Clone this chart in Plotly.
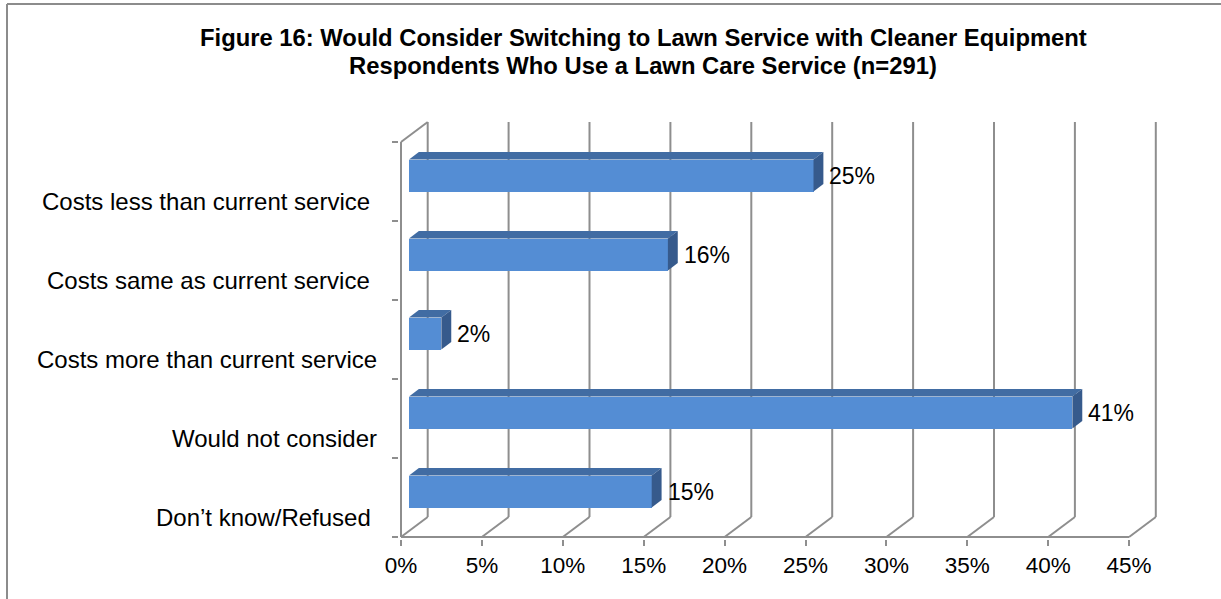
import plotly.graph_objects as go

# ---- chart data ----
categories = [
    "Costs less than current service",
    "Costs same as current service",
    "Costs more than current service",
    "Would not consider",
    "Don\u2019t know/Refused",
]
percent = [25, 16, 2, 41, 15]
tick_values = [0, 5, 10, 15, 20, 25, 30, 35, 40, 45]
tick_labels = [f"{t}%" for t in tick_values]
title_lines = [
    "Figure 16: Would Consider Switching to Lawn Service with Cleaner Equipment",
    "Respondents Who Use a Lawn Care Service (n=291)",
]

# ---- page / plot geometry ----
W, H = 1221, 599
PX_PER_PCT = 16.18          # horizontal pixels per percentage point
PX_PER_CAT = 79.0           # vertical pixels per category band
ZERO_X_PX, ZERO_Y_PX = 401, 537
L_PX, R_PX, T_PX, B_PX = 399, 1168, 110, 539

x_range = [(L_PX - ZERO_X_PX) / PX_PER_PCT, (R_PX - ZERO_X_PX) / PX_PER_PCT]
y_range = [(ZERO_Y_PX - B_PX) / PX_PER_CAT, (ZERO_Y_PX - T_PX) / PX_PER_CAT]

# 3-D depth of the chart box (data units) and bar placement within it
DEPTH_X = 26.7 / PX_PER_PCT
DEPTH_Y = 20.0 / PX_PER_CAT
BAR_FRONT = 0.30
BAR_BACK = 0.67
BAR_H = 0.405

FRONT_COL = "#548DD4"
TOP_COL = "#416CA3"
SIDE_COL = "#365A8C"
GRID_COL = "#8E8E8E"
FONT = "Liberation Sans, Arial, sans-serif"

n = len(categories)
centers = [n - 0.5 - i for i in range(n)]


def px_to_paper_x(px):
    return (px - L_PX) / (R_PX - L_PX)


def px_to_paper_y(py):
    return (B_PX - py) / (B_PX - T_PX)


fig = go.Figure()

# front faces of the bars
fig.add_trace(go.Bar(
    orientation="h",
    x=percent,
    base=[BAR_FRONT * DEPTH_X] * n,
    y=[c + BAR_FRONT * DEPTH_Y for c in centers],
    width=BAR_H,
    marker=dict(color=FRONT_COL, line=dict(width=0)),
    hoverinfo="skip",
    showlegend=False,
))

# top and side faces of the bars
for v, c in zip(percent, centers):
    x0f, x1f = BAR_FRONT * DEPTH_X, v + BAR_FRONT * DEPTH_X
    x0b, x1b = BAR_BACK * DEPTH_X, v + BAR_BACK * DEPTH_X
    ytf = c + BAR_H / 2 + BAR_FRONT * DEPTH_Y
    ybf = c - BAR_H / 2 + BAR_FRONT * DEPTH_Y
    ytb = c + BAR_H / 2 + BAR_BACK * DEPTH_Y
    ybb = c - BAR_H / 2 + BAR_BACK * DEPTH_Y
    fig.add_trace(go.Scatter(
        x=[x0f, x1f, x1b, x0b, x0f], y=[ytf, ytf, ytb, ytb, ytf],
        mode="lines", fill="toself", fillcolor=TOP_COL,
        line=dict(width=0, color=TOP_COL), hoverinfo="skip", showlegend=False,
    ))
    fig.add_trace(go.Scatter(
        x=[x1f, x1b, x1b, x1f, x1f], y=[ybf, ybb, ytb, ytf, ybf],
        mode="lines", fill="toself", fillcolor=SIDE_COL,
        line=dict(width=0, color=SIDE_COL), hoverinfo="skip", showlegend=False,
    ))

# ---- box: back-wall gridlines, floor diagonals, left wall ----
shapes = []
grid_line = dict(color=GRID_COL, width=2)
top_y = float(n)
for t in tick_values:
    shapes.append(dict(type="line", xref="x", yref="y", layer="below",
                       x0=t + DEPTH_X, y0=DEPTH_Y, x1=t + DEPTH_X, y1=top_y + DEPTH_Y,
                       line=grid_line))
    shapes.append(dict(type="line", xref="x", yref="y", layer="below",
                       x0=t, y0=0, x1=t + DEPTH_X, y1=DEPTH_Y, line=grid_line))
# floor front edge
shapes.append(dict(type="line", xref="x", yref="y", layer="below",
                   x0=0, y0=0, x1=tick_values[-1], y1=0, line=grid_line))
# left wall front edge and top slant
shapes.append(dict(type="line", xref="x", yref="y", layer="below",
                   x0=0, y0=0, x1=0, y1=top_y, line=grid_line))
shapes.append(dict(type="line", xref="x", yref="y", layer="below",
                   x0=0, y0=top_y, x1=DEPTH_X, y1=top_y + DEPTH_Y, line=grid_line))

# outer frame of the chart area
frame = dict(color="#8C8C8C", width=2)
shapes.append(dict(type="line", xref="paper", yref="paper",
                   x0=px_to_paper_x(7), y0=px_to_paper_y(4),
                   x1=px_to_paper_x(W + 5), y1=px_to_paper_y(4), line=frame))
shapes.append(dict(type="line", xref="paper", yref="paper",
                   x0=px_to_paper_x(7), y0=px_to_paper_y(4),
                   x1=px_to_paper_x(7), y1=px_to_paper_y(H + 5), line=frame))

annotations = []
# value labels beside each bar
for v, c in zip(percent, centers):
    annotations.append(dict(
        x=v + BAR_BACK * DEPTH_X, y=c + BAR_FRONT * DEPTH_Y, xref="x", yref="y",
        text=f"{v}%", showarrow=False, xanchor="left", yanchor="middle", xshift=4,
        font=dict(family=FONT, size=23, color="black"),
    ))

# category labels on the left
label_shift = [-7, -7, 0, 0, -6]
for cat, c, s in zip(categories, centers, label_shift):
    annotations.append(dict(
        x=px_to_paper_x(379), y=c - DEPTH_Y, xref="paper", yref="y",
        text=cat, showarrow=False, xanchor="right", yanchor="middle", xshift=s,
        font=dict(family=FONT, size=24, color="black"),
    ))

# bold title, one annotation per line
for line, y_px in zip(title_lines, [37, 65]):
    annotations.append(dict(
        x=px_to_paper_x(643), y=px_to_paper_y(y_px), xref="paper", yref="paper",
        text=f"<b>{line}</b>", showarrow=False,
        xanchor="center", yanchor="middle", align="center",
        font=dict(family=FONT, size=23.8, color="black"),
    ))

fig.update_layout(
    width=W, height=H, autosize=False,
    margin=dict(l=L_PX, r=W - R_PX, t=T_PX, b=H - B_PX, pad=0),
    paper_bgcolor="white", plot_bgcolor="white",
    shapes=shapes, annotations=annotations,
    showlegend=False, bargap=0,
    xaxis=dict(
        range=x_range, showgrid=False, zeroline=False, showline=False,
        tickmode="array", tickvals=tick_values, ticktext=tick_labels,
        ticks="outside", ticklen=6, tickwidth=2, tickcolor=GRID_COL,
        tickfont=dict(family=FONT, size=22.5, color="black"),
        ticklabelstandoff=0, fixedrange=True,
    ),
    yaxis=dict(
        range=y_range, showgrid=False, zeroline=False, showline=False,
        tickmode="array", tickvals=list(range(n + 1)), showticklabels=False,
        ticks="outside", ticklen=6, tickwidth=2, tickcolor=GRID_COL,
        fixedrange=True,
    ),
)

fig.write_html("out.html")
